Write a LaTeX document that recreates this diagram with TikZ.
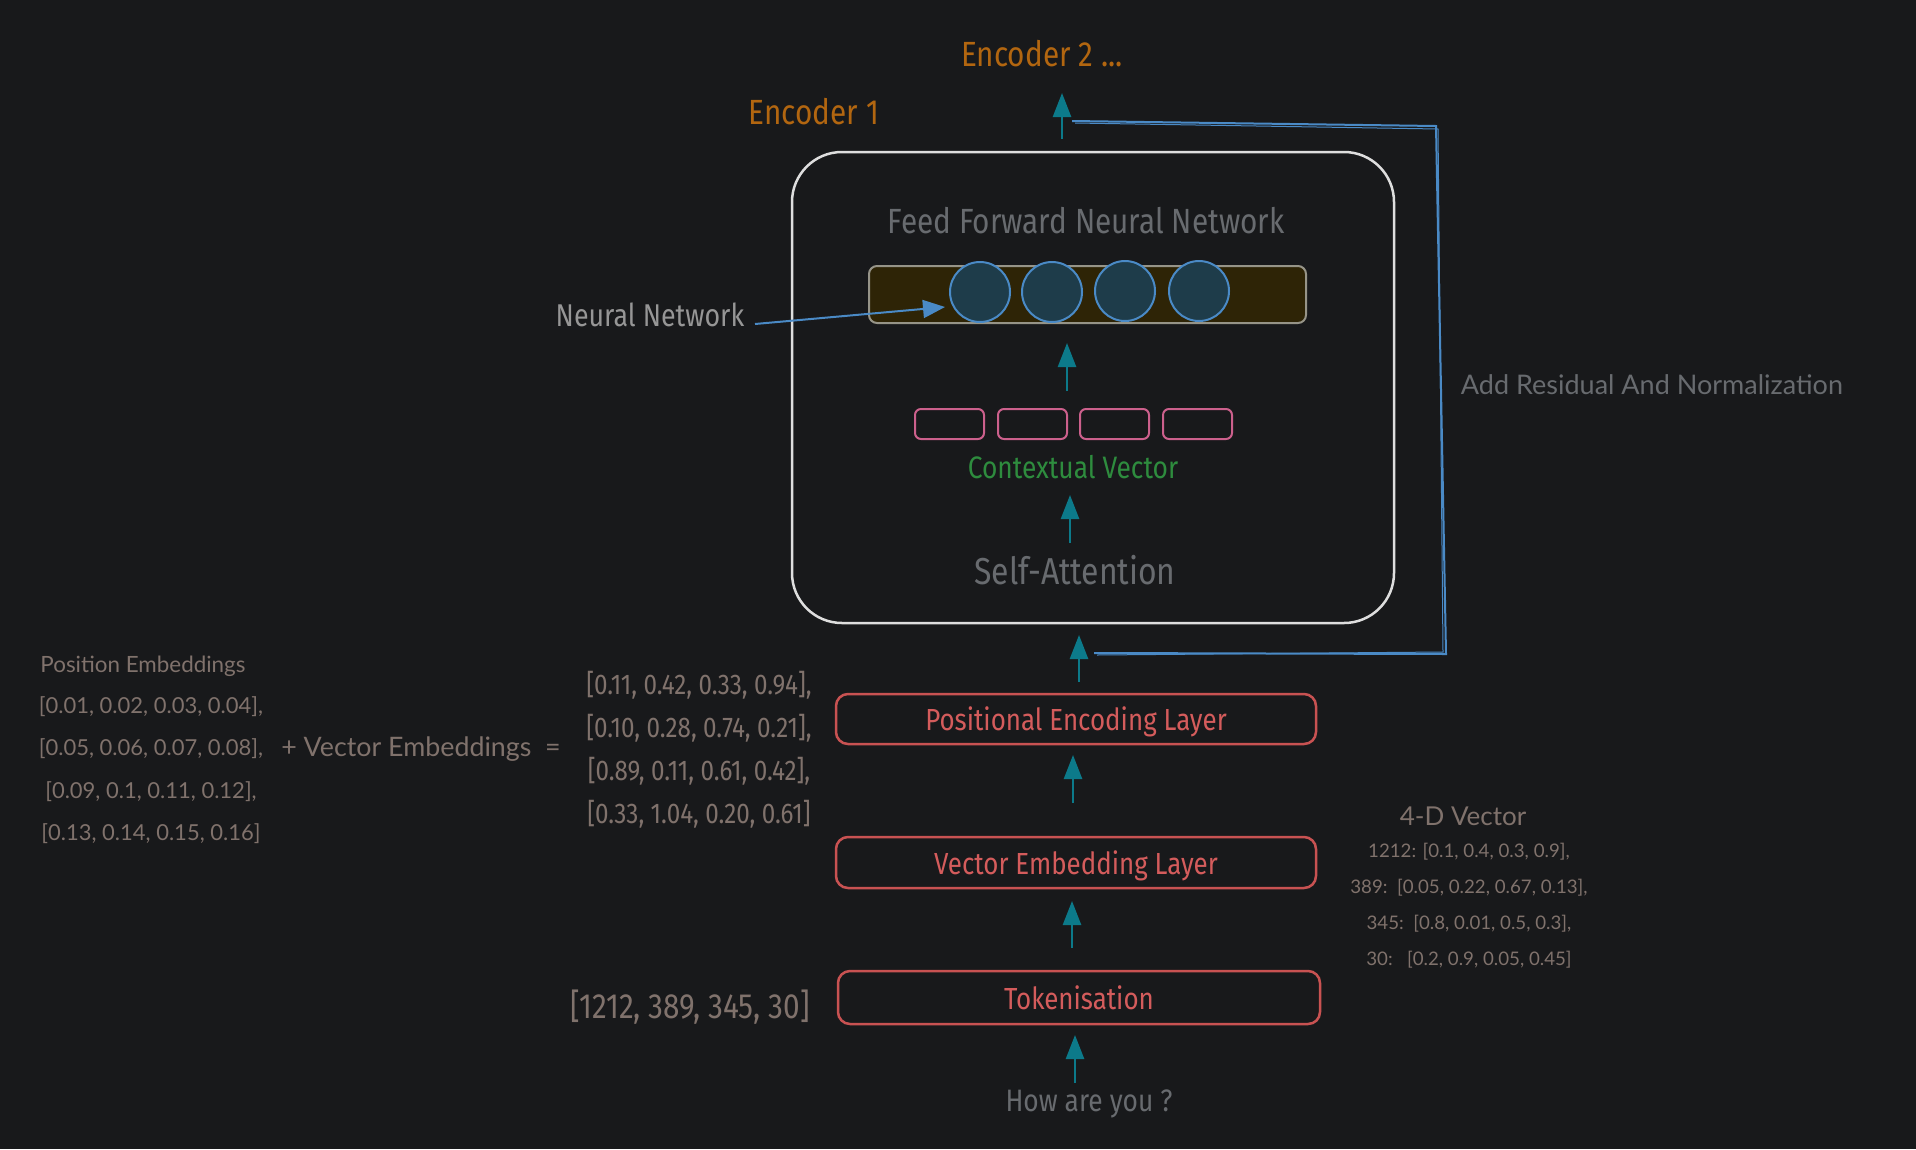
\documentclass[tikz,border=0pt]{standalone}
\usepackage{fontspec}
\setmainfont{Lato}
\newfontfamily\cond[FakeStretch=0.85]{Fira Sans}
\newfontfamily\rnd{Lato}
\usetikzlibrary{arrows.meta}
\definecolor{bgc}{RGB}{24,25,27}
\definecolor{encorange}{RGB}{178,102,16}
\definecolor{tealc}{RGB}{12,122,138}
\definecolor{bluec}{RGB}{74,138,198}
\definecolor{boxwhite}{RGB}{222,222,222}
\definecolor{graytxt}{RGB}{104,107,111}
\definecolor{lightgray}{RGB}{150,150,150}
\definecolor{warmgray}{RGB}{128,114,108}
\definecolor{redc}{RGB}{200,82,82}
\definecolor{redtxt}{RGB}{212,92,92}
\definecolor{pinkc}{RGB}{204,96,140}
\definecolor{greenc}{RGB}{46,140,62}
\definecolor{barfill}{RGB}{46,36,6}
\definecolor{barline}{RGB}{150,148,136}
\definecolor{circfill}{RGB}{30,60,74}
\begin{document}
\begin{tikzpicture}[x=1pt,y=-1pt,
  tarrow/.style={draw=tealc, line width=2.5pt, -{Triangle[width=18pt,length=24pt]}},
  barrow/.style={draw=bluec, line width=2pt, -{Triangle[width=18pt,length=22pt]}},
  resid/.style={draw=bluec, line width=2pt},
  redbox/.style={draw=redc, line width=2.5pt, rounded corners=12pt, text=redtxt,
     font=\cond\fontsize{30.5}{34}\selectfont, inner sep=0pt, text depth=0pt},
  pinkbox/.style={draw=pinkc, line width=2pt, rounded corners=6pt, minimum width=69pt, minimum height=30pt, inner sep=0pt},
  neuron/.style={circle, draw=bluec, fill=circfill, line width=2pt, minimum size=60pt, inner sep=0pt},
  txt/.style={inner sep=0pt, align=center},
  condtxt/.style={txt, font=\cond\fontsize{#1}{#1}\selectfont},
  rndtxt/.style={txt, font=\rnd\fontsize{#1}{#1}\selectfont}
]
\fill[bgc] (0,0) rectangle (1916,1149);
\useasboundingbox (0,0) rectangle (1916,1149);

% Encoder labels
\node[condtxt=35, text=encorange] (enc2) at (1042,54) {Encoder 2 ...};
\node[condtxt=35, text=encorange] (enc1) at (814,112) {Encoder 1};

% Encoder block
\node[draw=boxwhite, line width=2.5pt, rounded corners=50pt, minimum width=602pt, minimum height=471pt] (enc) at (1093,387.5) {};

\node[condtxt=35, text=graytxt] (ffnn) at (1086,221) {Feed Forward Neural Network};
\node[draw=barline, fill=barfill, line width=2pt, rounded corners=8pt, minimum width=437pt, minimum height=57pt] (bar) at (1087.5,294.5) {};
\node[neuron] (n1) at (980,292) {};
\node[neuron] (n2) at (1052,292) {};
\node[neuron] (n3) at (1125,291) {};
\node[neuron] (n4) at (1199,291) {};

\node[condtxt=31.5, text=lightgray] (nnlab) at (650,315) {Neural Network};

\node[pinkbox] (p1) at (949.5,424) {};
\node[pinkbox] (p2) at (1032.5,424) {};
\node[pinkbox] (p3) at (1114.5,424) {};
\node[pinkbox] (p4) at (1197.5,424) {};
\node[condtxt=31, text=greenc] (ctx) at (1073,467) {Contextual Vector};
\node[condtxt=37.5, text=graytxt] (sa) at (1075,570) {Self-Attention};

% Layers
\node[redbox, minimum width=480pt, minimum height=50pt] (pel) at (1076,719) {Positional Encoding Layer};
\node[redbox, minimum width=480pt, minimum height=51pt] (vel) at (1076,862.5) {Vector Embedding Layer};
\node[redbox, minimum width=482pt, minimum height=53pt] (tok) at (1079,997.5) {Tokenisation};
\node[condtxt=31, text=graytxt] (how) at (1089,1103.5) {How are you ?};

% Left-side texts
\node[condtxt=35, text=warmgray, anchor=east] (ids) at (810,1007) {{[1212, 389, 345, 30]}};
\node[txt, font=\cond\fontsize{28.5}{43}\selectfont, text=warmgray] (sum) at (699,749.5)
  {{[0.11, 0.42, 0.33, 0.94],}\\ {[0.10, 0.28, 0.74, 0.21],}\\ {[0.89, 0.11, 0.61, 0.42],}\\ {[0.33, 1.04, 0.20, 0.61]}};
\node[rndtxt=22.4, text=warmgray] (posh) at (143,666) {Position Embeddings};
\node[txt, font=\rnd\fontsize{22}{42.3}\selectfont, text=warmgray] (pos) at (151,770)
  {{[0.01, 0.02, 0.03, 0.04],}\\ {[0.05, 0.06, 0.07, 0.08],}\\ {[0.09, 0.1, 0.11, 0.12],}\\ {[0.13, 0.14, 0.15, 0.16]}};
\node[rndtxt=26.8, text=warmgray] (plus) at (421,749) {+ Vector Embeddings\ \ =};

% Right-side texts
\node[rndtxt=26, text=warmgray] (fourd) at (1463,816) {4-D Vector};
\node[txt, font=\rnd\fontsize{18.7}{36}\selectfont, text=warmgray] (vecs) at (1469,905.5)
  {{1212: [0.1, 0.4, 0.3, 0.9],}\\ {389:\ \ [0.05, 0.22, 0.67, 0.13],}\\ {345:\ \ [0.8, 0.01, 0.5, 0.3],}\\ {30:\ \ \ [0.2, 0.9, 0.05, 0.45]}};
\node[rndtxt=27, text=graytxt] (addres) at (1652,385) {Add Residual And Normalization};

% Arrow coordinates
\coordinate (t0a) at (1062,139); \coordinate (t0b) at (1062,93);
\coordinate (t1a) at (1067,391); \coordinate (t1b) at (1067,343);
\coordinate (t2a) at (1070,543); \coordinate (t2b) at (1070,495);
\coordinate (t3a) at (1079,682); \coordinate (t3b) at (1079,635);
\coordinate (t4a) at (1073,803); \coordinate (t4b) at (1073,755);
\coordinate (t5a) at (1072,948); \coordinate (t5b) at (1072,901);
\coordinate (t6a) at (1075,1083); \coordinate (t6b) at (1075,1035);
\draw[tarrow] (t0a) -- (t0b);
\draw[tarrow] (t1a) -- (t1b);
\draw[tarrow] (t2a) -- (t2b);
\draw[tarrow] (t3a) -- (t3b);
\draw[tarrow] (t4a) -- (t4b);
\draw[tarrow] (t5a) -- (t5b);
\draw[tarrow] (t6a) -- (t6b);

% Neural network pointer
\coordinate (nna) at (755,324);
\coordinate (nnb) at (945,307);
\draw[barrow] (nna) -- (nnb);

% Residual connection
\coordinate (r1) at (1072,121);
\coordinate (r2) at (1436,126);
\coordinate (r3) at (1446,654);
\coordinate (r4) at (1094,653);
\draw[resid] (r1) -- (r2) -- (r3) -- (r4);
\draw[draw=bluec, line width=1pt] ([shift={(3,2)}]r1) -- ([shift={(2,3)}]r2) -- ([shift={(-3,-2)}]r3) -- ([shift={(3,2)}]r4);
\end{tikzpicture}
\end{document}
